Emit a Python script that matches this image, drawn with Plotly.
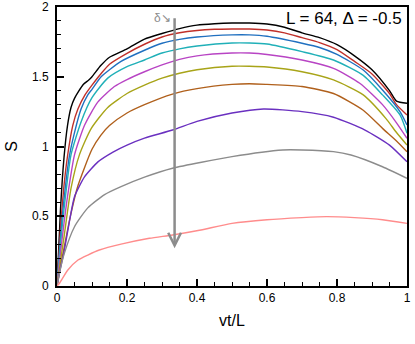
import plotly.graph_objects as go

# curves, top to bottom
x_black = [0, 0.01, 0.02, 0.03, 0.04, 0.05, 0.075, 0.09, 0.1, 0.125, 0.15, 0.2, 0.25, 0.3, 0.35, 0.4, 0.45, 0.5,
           0.55, 0.6, 0.65, 0.7, 0.75, 0.8, 0.85, 0.9, 0.95, 0.97, 1.0]
s_black = [0, 0.55, 0.92, 1.15, 1.28, 1.345, 1.445, 1.475, 1.50, 1.58, 1.64, 1.70, 1.77, 1.81, 1.845, 1.87, 1.88,
           1.885, 1.885, 1.878, 1.855, 1.815, 1.78, 1.73, 1.65, 1.55, 1.40, 1.325, 1.31]

x_red = [0, 0.01, 0.02, 0.03, 0.045, 0.06, 0.08, 0.1, 0.125, 0.15, 0.2, 0.25, 0.3, 0.35, 0.4, 0.45, 0.5, 0.55,
         0.6, 0.65, 0.7, 0.75, 0.8, 0.85, 0.9, 0.95, 0.97, 1.0]
s_red = [0, 0.42, 0.72, 0.93, 1.15, 1.27, 1.37, 1.44, 1.52, 1.59, 1.668, 1.733, 1.785, 1.815, 1.832, 1.84, 1.842,
         1.842, 1.835, 1.815, 1.78, 1.745, 1.695, 1.61, 1.52, 1.38, 1.30, 1.226]

x_blue = [0, 0.01, 0.02, 0.036, 0.05, 0.069, 0.088, 0.1, 0.126, 0.15, 0.183, 0.25, 0.3, 0.35, 0.4, 0.5, 0.55, 0.6,
          0.7, 0.75, 0.8, 0.875, 0.93, 0.98, 1.0]
s_blue = [0, 0.35, 0.62, 0.94, 1.10, 1.27, 1.37, 1.41, 1.50, 1.55, 1.61, 1.69, 1.74, 1.768, 1.785, 1.80, 1.80, 1.79,
          1.74, 1.71, 1.66, 1.548, 1.405, 1.25, 1.154]

x_cyan = [0, 0.01, 0.02, 0.04, 0.069, 0.1, 0.145, 0.2, 0.25, 0.3, 0.35, 0.4, 0.5, 0.55, 0.6, 0.7, 0.79, 0.875,
          0.93, 0.98, 1.0]
s_cyan = [0, 0.30, 0.55, 0.94, 1.178, 1.35, 1.49, 1.572, 1.62, 1.67, 1.70, 1.72, 1.742, 1.742, 1.735, 1.68, 1.62,
          1.51, 1.37, 1.226, 1.095]

x_magenta = [0, 0.01, 0.02, 0.03, 0.05, 0.079, 0.117, 0.164, 0.2, 0.25, 0.3, 0.35, 0.4, 0.5, 0.55, 0.6, 0.7, 0.79,
             0.865, 0.93, 0.97, 1.0]
s_magenta = [0, 0.24, 0.45, 0.64, 0.94, 1.154, 1.32, 1.43, 1.48, 1.536, 1.585, 1.625, 1.65, 1.67, 1.67, 1.66, 1.62,
             1.56, 1.453, 1.30, 1.17, 1.059]

x_olive = [0, 0.01, 0.02, 0.04, 0.064, 0.098, 0.145, 0.2, 0.25, 0.3, 0.35, 0.4, 0.5, 0.55, 0.6, 0.7, 0.79, 0.875,
           0.94, 0.97, 1.0]
s_olive = [0, 0.18, 0.35, 0.70, 0.94, 1.13, 1.28, 1.38, 1.44, 1.49, 1.525, 1.55, 1.575, 1.575, 1.57, 1.536, 1.477,
           1.37, 1.20, 1.10, 1.01]

x_brown = [0, 0.01, 0.02, 0.04, 0.06, 0.1, 0.125, 0.15, 0.2, 0.25, 0.33, 0.4, 0.5, 0.55, 0.6, 0.7, 0.79, 0.875,
           0.93, 0.97, 1.0]
s_brown = [0, 0.14, 0.27, 0.52, 0.72, 0.98, 1.08, 1.15, 1.24, 1.30, 1.376, 1.415, 1.445, 1.45, 1.445, 1.43, 1.38,
           1.26, 1.13, 1.04, 0.963]

x_purple = [0, 0.01, 0.021, 0.036, 0.05, 0.079, 0.117, 0.16, 0.2, 0.25, 0.33, 0.4, 0.5, 0.59, 0.7, 0.79, 0.88,
            0.95, 1.0]
s_purple = [0, 0.13, 0.258, 0.47, 0.64, 0.784, 0.89, 0.96, 1.01, 1.06, 1.118, 1.18, 1.24, 1.269, 1.25, 1.21,
            1.118, 1.01, 0.89]

x_gray = [0, 0.007, 0.021, 0.05, 0.088, 0.136, 0.183, 0.25, 0.33, 0.5, 0.645, 0.7, 0.79, 0.84, 0.93, 1.0]
s_gray = [0, 0.093, 0.234, 0.425, 0.56, 0.655, 0.712, 0.78, 0.844, 0.927, 0.975, 0.975, 0.963, 0.939, 0.855, 0.772]

x_pink = [0, 0.007, 0.031, 0.06, 0.088, 0.121, 0.183, 0.264, 0.33, 0.407, 0.5, 0.6, 0.7, 0.77, 0.85, 0.93, 1.0]
s_pink = [0, 0.02, 0.115, 0.186, 0.222, 0.258, 0.30, 0.342, 0.366, 0.40, 0.449, 0.475, 0.49, 0.497, 0.49, 0.475, 0.449]

curves = [
    (x_black, s_black, "#000000"),
    (x_red, s_red, "#c0302a"),
    (x_blue, s_blue, "#2070c0"),
    (x_cyan, s_cyan, "#20b0b8"),
    (x_magenta, s_magenta, "#b844c4"),
    (x_olive, s_olive, "#a8a418"),
    (x_brown, s_brown, "#b0601c"),
    (x_purple, s_purple, "#6a30c0"),
    (x_gray, s_gray, "#8c8c8c"),
    (x_pink, s_pink, "#ff8c8c"),
]

fig = go.Figure()
for xs, ys, col in curves:
    fig.add_trace(go.Scatter(x=xs, y=ys, mode="lines",
                             line=dict(color=col, width=1.4, shape="spline", smoothing=0.6),
                             showlegend=False, hoverinfo="skip", cliponaxis=True))

# delta arrow
arrow_x = 0.336
arrow_top = 1.93
arrow_tip = 0.27
fig.add_annotation(x=arrow_x, y=arrow_tip, ax=arrow_x, ay=arrow_top, xref="x", yref="y",
                   axref="x", ayref="y", text="", showarrow=True, arrowhead=5,
                   arrowsize=1.0, arrowwidth=2.5, arrowcolor="#8c8c8c")
fig.add_annotation(x=arrow_x - 0.006, y=1.92, xref="x", yref="y", text="δ↘", showarrow=False,
                   xanchor="right", font=dict(size=12, color="#8c8c8c"))

fig.add_annotation(x=0.99, y=0.96, xref="paper", yref="paper", text="L = 64, Δ = -0.5",
                   showarrow=False, xanchor="right", yanchor="middle",
                   font=dict(size=17, color="black"))

axis_style = dict(showline=True, linecolor="black", linewidth=2, mirror=True, ticks="inside",
                  ticklen=7, tickwidth=1.5, tickcolor="black", showgrid=False, zeroline=False,
                  automargin=False, tickfont=dict(size=12, color="black"))

fig.update_xaxes(range=[0, 1], tickvals=[0, 0.2, 0.4, 0.6, 0.8, 1],
                 ticktext=["0", "0.2", "0.4", "0.6", "0.8", "1"],
                 minor=dict(ticks="inside", ticklen=4, dtick=0.05, tickcolor="black", tickwidth=1),
                 title=dict(text="vt/L", font=dict(size=16, color="black"), standoff=10),
                 **axis_style)
fig.update_yaxes(range=[0, 2], tickvals=[0, 0.5, 1, 1.5, 2], ticktext=["0", "0.5", "1", "1.5", "2"],
                 minor=dict(ticks="inside", ticklen=4, dtick=0.1, tickcolor="black", tickwidth=1),
                 title=dict(text="S", font=dict(size=16, color="black"), standoff=10),
                 ticklabelstandoff=4, **axis_style)

fig.update_layout(width=415, height=344, margin=dict(l=57, r=8, t=7, b=58),
                  plot_bgcolor="white", paper_bgcolor="white",
                  font=dict(family="Liberation Sans, Arial, sans-serif", color="black"))

# drop the browser's default 8px body margin so the figure sits at the window corner
fig.write_html("out.html", config={"displayModeBar": False},
               post_script="document.body.style.margin='0';")
